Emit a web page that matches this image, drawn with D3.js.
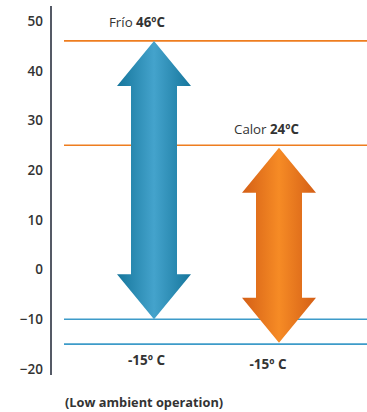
<!DOCTYPE html>
<html>
<head>
<meta charset="utf-8">
<script src="https://cdn.jsdelivr.net/npm/d3@7"></script>
<style>
  html, body { margin: 0; padding: 0; background: #fff; }
  svg { display: block; font-family: "Open Sans", "Noto Sans", sans-serif; }
</style>
</head>
<body>
<div id="chart"></div>
<script>
// ---- data ----
const categories = ["Frío", "Calor"];
const rangeTop = [46, 24.5];
const rangeBottom = [-10, -14.7];
const topLabels = [["Frío ", "46ºC"], ["Calor ", "24ºC"]];
const bottomLabels = ["-15º C", "-15º C"];
const refLines = [46, 25, -10, -15];
const refLineColors = ["#ee7d1f", "#ee7d1f", "#3d9bc9", "#3d9bc9"];
const tickValues = [50, 40, 30, 20, 10, 0, -10, -20];
const footnote = "(Low ambient operation)";

// ---- layout ----
const W = 367, H = 412;
const svg = d3.select("#chart").append("svg").attr("width", W).attr("height", H);

const y = d3.scaleLinear().domain([-20, 50]).range([369, 21]);
const x = d3.scalePoint().domain(categories).range([154, 279]);

const defs = svg.append("defs");
const grads = [
  {id: "gBlue", edge: "#16769c", mid: "#44a3cc"},
  {id: "gOrange", edge: "#d45f16", mid: "#f68b25"}
];
grads.forEach(g => {
  const lg = defs.append("linearGradient").attr("id", g.id)
    .attr("x1", "0%").attr("x2", "100%").attr("y1", "0%").attr("y2", "0%");
  lg.append("stop").attr("offset", "0%").attr("stop-color", g.edge);
  lg.append("stop").attr("offset", "50%").attr("stop-color", g.mid);
  lg.append("stop").attr("offset", "100%").attr("stop-color", g.edge);
});

// reference lines
svg.selectAll("line.ref").data(refLines).join("line")
  .attr("class", "ref")
  .attr("x1", 64).attr("x2", W)
  .attr("y1", d => y(d)).attr("y2", d => y(d))
  .attr("stroke", (d, i) => refLineColors[i])
  .attr("stroke-width", 1.6);

// axis
svg.append("line")
  .attr("x1", 51).attr("x2", 51).attr("y1", 6).attr("y2", 375)
  .attr("stroke", "#555a66").attr("stroke-width", 2);

const axis = svg.append("g").attr("transform", "translate(51,0)")
  .call(d3.axisLeft(y).tickValues(tickValues).tickSize(0).tickPadding(8).tickFormat(d3.format("d")));
axis.select(".domain").remove();
axis.selectAll("text")
  .attr("font-size", 13.5).attr("font-weight", 600).attr("fill", "#333")
  .attr("font-family", "'Open Sans', sans-serif");

// arrows
const headW = 74, shaftW = 46, headL = 45;
function arrowPath(cx, yt, yb) {
  const hh = headW / 2, sh = shaftW / 2;
  return [
    [cx, yt], [cx + hh, yt + headL], [cx + sh, yt + headL],
    [cx + sh, yb - headL], [cx + hh, yb - headL], [cx, yb],
    [cx - hh, yb - headL], [cx - sh, yb - headL], [cx - sh, yt + headL],
    [cx - hh, yt + headL]
  ].map((p, i) => (i ? "L" : "M") + p[0] + "," + p[1]).join("") + "Z";
}
svg.selectAll("path.arrow").data(categories).join("path")
  .attr("class", "arrow")
  .attr("d", (c, i) => arrowPath(x(c), y(rangeTop[i]), y(rangeBottom[i])))
  .attr("fill", (c, i) => `url(#${grads[i].id})`);

// top labels
const topPos = [{x: 109, y: 27}, {x: 234, y: 134}];
categories.forEach((c, i) => {
  const t = svg.append("text")
    .attr("x", topPos[i].x).attr("y", topPos[i].y)
    .attr("font-size", 13.3).attr("fill", "#333");
  t.append("tspan").text(topLabels[i][0]).attr("font-weight", 400);
  t.append("tspan").text(topLabels[i][1]).attr("font-weight", 700);
});

// bottom labels
const botY = [364.5, 368.5];
const botX = [146.5, 268];
svg.selectAll("text.bot").data(categories).join("text")
  .attr("class", "bot")
  .attr("x", (c, i) => botX[i])
  .attr("y", (c, i) => botY[i])
  .attr("text-anchor", "middle")
  .attr("font-size", 13.5).attr("font-weight", 700).attr("fill", "#333")
  .text((c, i) => bottomLabels[i]);

// footnote
svg.append("text").attr("x", 65).attr("y", 406.5)
  .attr("font-size", 12.8).attr("font-weight", 700).attr("fill", "#333")
  .text(footnote);
</script>
</body>
</html>
